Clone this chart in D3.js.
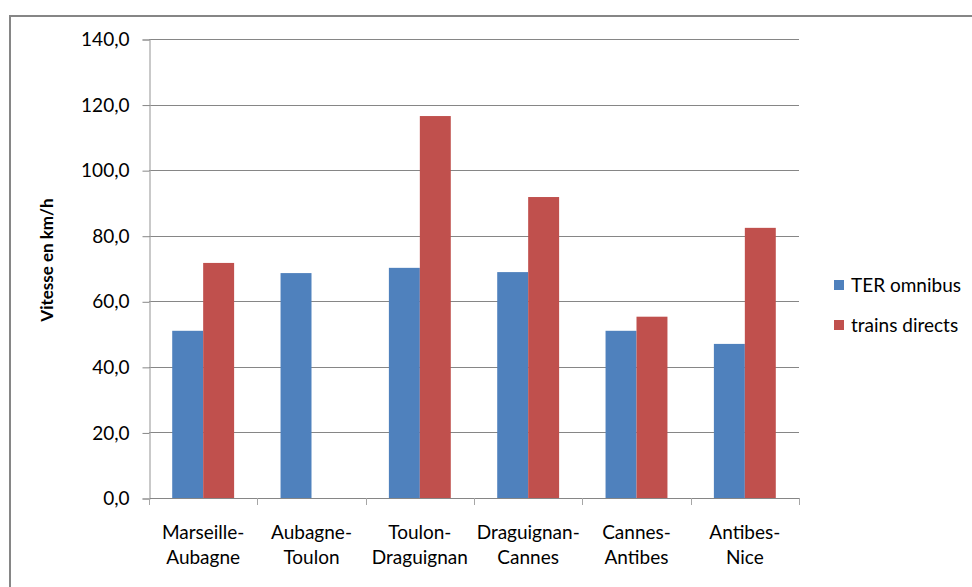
<!DOCTYPE html>
<html>
<head>
<meta charset="utf-8">
<script src="https://cdn.jsdelivr.net/npm/d3@7"></script>
<style>
  html, body { margin: 0; padding: 0; background: #fff; }
  svg { display: block; }
  text { font-family: Lato, "Open Sans", sans-serif; fill: #000; }
</style>
</head>
<body>
<svg id="chart" width="972" height="587"></svg>
<script>
// Average speeds per line section (km/h)
const categories = [
  ["Marseille-", "Aubagne"],
  ["Aubagne-", "Toulon"],
  ["Toulon-", "Draguignan"],
  ["Draguignan-", "Cannes"],
  ["Cannes-", "Antibes"],
  ["Antibes-", "Nice"]
];
const seriesNames = ["TER omnibus", "trains directs"];
const terOmnibus = [51.0, 68.6, 70.2, 68.9, 51.0, 47.0];
const trainsDirects = [71.7, null, 116.5, 91.8, 55.3, 82.4];
const yTicks = [0, 20, 40, 60, 80, 100, 120, 140];
const colors = ["#4F81BD", "#C0504D"];

const svg = d3.select("#chart");
const plot = { left: 149, right: 799, top: 39, bottom: 498 };

// outer chart frame
svg.append("rect")
  .attr("x", 10).attr("y", 16)
  .attr("width", 1000).attr("height", 700)
  .attr("fill", "none")
  .attr("stroke", "#868686")
  .attr("stroke-width", 2);

const x = d3.scaleBand()
  .domain(d3.range(categories.length))
  .range([plot.left, plot.right])
  .paddingInner(0).paddingOuter(0);

const y = d3.scaleLinear().domain([0, 140]).range([plot.bottom, plot.top]);

const fmt = v => d3.format(".1f")(v).replace(".", ",");

// horizontal gridlines
svg.append("g")
  .selectAll("line")
  .data(yTicks.filter(t => t > 0))
  .join("line")
  .attr("x1", plot.left).attr("x2", plot.right)
  .attr("y1", d => Math.round(y(d)) + 0.5)
  .attr("y2", d => Math.round(y(d)) + 0.5)
  .attr("stroke", "#868686")
  .attr("stroke-width", 1.2);

// bars
const groupWidth = x.bandwidth();
const barW = groupWidth / 3.5;
const inner = d3.scaleBand().domain([0, 1]).range([0, barW * 2]);

const rows = categories.map((c, i) => [terOmnibus[i], trainsDirects[i]]);
svg.append("g")
  .selectAll("g")
  .data(rows)
  .join("g")
  .attr("transform", (d, i) => `translate(${x(i) + (groupWidth - 2 * barW) / 2},0)`)
  .selectAll("rect")
  .data(d => d.map((v, s) => ({ v, s })).filter(o => o.v != null))
  .join("rect")
  .attr("x", d => inner(d.s))
  .attr("width", inner.bandwidth())
  .attr("y", d => y(d.v))
  .attr("height", d => y(0) - y(d.v))
  .attr("fill", d => colors[d.s]);

// y axis
const yAxis = d3.axisLeft(y)
  .tickValues(yTicks)
  .tickFormat(fmt)
  .tickSize(7)
  .tickPadding(13);
const gy = svg.append("g")
  .attr("transform", `translate(${plot.left + 0.5},0.5)`)
  .call(yAxis);
gy.select(".domain").attr("stroke", "#a6a6a6").attr("stroke-width", 1.2);
gy.selectAll(".tick line").attr("stroke", "#868686");
gy.selectAll(".tick text")
  .style("font-family", "Lato, sans-serif")
  .attr("font-size", 19)
  .attr("fill", "#222");

// x axis: baseline and boundary ticks
svg.append("line")
  .attr("x1", plot.left).attr("x2", plot.right)
  .attr("y1", plot.bottom + 0.5).attr("y2", plot.bottom + 0.5)
  .attr("stroke", "#868686").attr("stroke-width", 1.2);
svg.append("g")
  .selectAll("line")
  .data(d3.range(categories.length + 1))
  .join("line")
  .attr("x1", i => Math.round(plot.left + i * groupWidth) + 0.5)
  .attr("x2", i => Math.round(plot.left + i * groupWidth) + 0.5)
  .attr("y1", plot.bottom)
  .attr("y2", plot.bottom + 7)
  .attr("stroke", "#a6a6a6");

// category labels (two lines each)
const lab = svg.append("g")
  .selectAll("text")
  .data(categories)
  .join("text")
  .attr("x", (d, i) => x(i) + groupWidth / 2)
  .attr("y", 539)
  .attr("text-anchor", "middle")
  .attr("font-size", 19)
  .attr("fill", "#222");
lab.selectAll("tspan")
  .data(d => d)
  .join("tspan")
  .attr("x", function () { return this.parentNode.getAttribute("x"); })
  .attr("dy", (d, j) => j === 0 ? 0 : 25)
  .text(d => d);

// y axis title
svg.append("text")
  .attr("transform", "translate(53,260) rotate(-90)")
  .attr("text-anchor", "middle")
  .attr("font-size", 17)
  .attr("font-weight", "bold")
  .text("Vitesse en km/h");

// legend
const legend = svg.append("g")
  .selectAll("g")
  .data(seriesNames)
  .join("g")
  .attr("transform", (d, i) => `translate(834,${280 + i * 40})`);
legend.append("rect")
  .attr("width", 10).attr("height", 10)
  .attr("fill", (d, i) => colors[i]);
legend.append("text")
  .attr("x", 17).attr("y", 12)
  .attr("font-size", 19)
  .attr("fill", "#222")
  .text(d => d);
</script>
</body>
</html>
